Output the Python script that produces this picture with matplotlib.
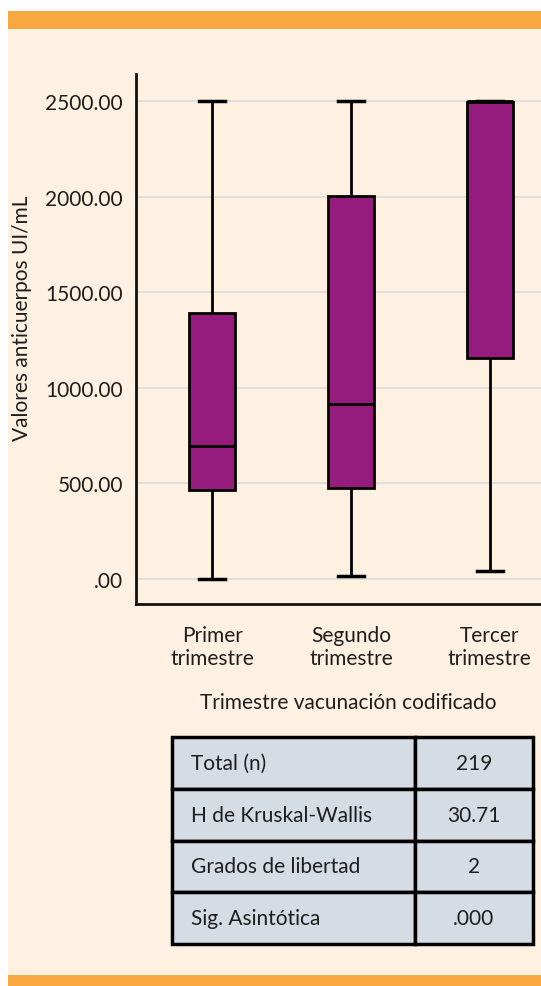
import matplotlib as mpl
mpl.use('Agg')
import matplotlib.pyplot as plt
from matplotlib.patches import Rectangle

mpl.rcParams['font.family'] = ['Lato', 'DejaVu Sans']

# data
categorias = ['Primer\ntrimestre', 'Segundo\ntrimestre', 'Tercer\ntrimestre']
minimos = [0, 15, 42]
q1 = [465, 475, 1155]
medianas = [695, 915, 2500]
q3 = [1390, 2005, 2495]
maximos = [2500, 2500, 2500]
y_ticks = [0, 500, 1000, 1500, 2000, 2500]
y_tick_labels = ['.00', '500.00', '1000.00', '1500.00', '2000.00', '2500.00']

tabla_filas = ['Total (n)', 'H de Kruskal-Wallis', 'Grados de libertad', 'Sig. Asintótica']
tabla_valores = ['219', '30.71', '2', '.000']

W, H = 541, 987
crema = '#FEF1E1'
naranja = '#F9A740'
morado = '#951C7C'
texto = '#1E1E1E'
fs = 15

fig = plt.figure(figsize=(W / 100, H / 100), dpi=100)
fig.patch.set_facecolor('white')

# background panel and orange bars
fig.patches.append(Rectangle((8 / W, 0), 1 - 8 / W, 1 - 12 / H, transform=fig.transFigure,
                             facecolor=crema, edgecolor='none', zorder=-10))
fig.patches.append(Rectangle((8 / W, 1 - 30 / H), 1 - 8 / W, 18 / H, transform=fig.transFigure,
                             facecolor=naranja, edgecolor='none', zorder=-9))
fig.patches.append(Rectangle((8 / W, 0), 1 - 8 / W, 11 / H, transform=fig.transFigure,
                             facecolor=naranja, edgecolor='none', zorder=-9))

ax = fig.add_axes([136 / W, 1 - 605 / H, 1 - 136 / W, (605 - 75) / H])
ax.set_facecolor('none')

stats = []
for i in range(len(categorias)):
    stats.append({'whislo': minimos[i], 'q1': q1[i], 'med': medianas[i],
                  'q3': q3[i], 'whishi': maximos[i], 'fliers': []})

ax.bxp(stats, positions=[1, 2, 3], widths=0.33, patch_artist=True, showfliers=False,
       boxprops=dict(facecolor=morado, edgecolor='black', linewidth=2),
       medianprops=dict(color='black', linewidth=2),
       whiskerprops=dict(color='black', linewidth=2),
       capprops=dict(color='black', linewidth=2.5),
       capwidths=0.19)

ax.set_xlim(0.45, 3.37)
ax.set_ylim(-131, 2641)
ax.set_yticks(y_ticks)
ax.set_yticklabels(y_tick_labels, fontsize=fs, color=texto)
ax.set_xticks([1, 2, 3])
ax.set_xticklabels(categorias, fontsize=fs, color=texto, linespacing=1.2)
ax.tick_params(axis='both', length=0)
ax.tick_params(axis='y', pad=9.5)
ax.tick_params(axis='x', pad=15)
ax.grid(axis='y', color='#DCDCDC', linewidth=1.2)
ax.set_axisbelow(True)
for s in ['top', 'right']:
    ax.spines[s].set_visible(False)
for s in ['left', 'bottom']:
    ax.spines[s].set_linewidth(2)
    ax.spines[s].set_color('#111111')

fig.text(22 / W, 1 - 318 / H, 'Valores anticuerpos UI/mL', rotation=90, ha='center', va='center',
         fontsize=fs, color=texto)
fig.text(348 / W, 1 - 703 / H, 'Trimestre vacunación codificado', ha='center', va='center',
         fontsize=fs, color=texto)

# summary table
tax = fig.add_axes([172 / W, 1 - 945 / H, (533 - 172) / W, (945 - 738) / H])
tax.axis('off')
celdas = [[f, v] for f, v in zip(tabla_filas, tabla_valores)]
tab = tax.table(cellText=celdas, bbox=[0, 0, 1, 1], colWidths=[243 / 361, 118 / 361],
                cellLoc='center')
tab.auto_set_font_size(False)
for (r, c), cell in tab.get_celld().items():
    cell.set_facecolor('#D6DCE4')
    cell.set_edgecolor('black')
    cell.set_linewidth(2.5)
    cell.get_text().set_fontsize(fs)
    cell.get_text().set_color(texto)
    if c == 0:
        cell.get_text().set_ha('left')
        cell.PAD = 0.08

fig.savefig('out.png', dpi=100)
